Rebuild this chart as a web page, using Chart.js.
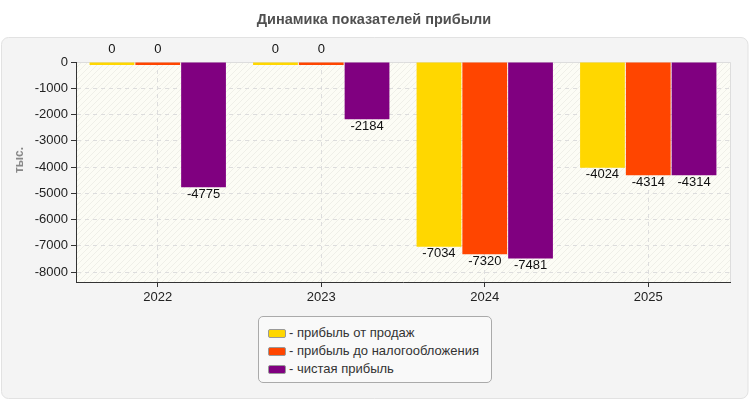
<!DOCTYPE html>
<html>
<head>
<meta charset="utf-8">
<script src="https://cdn.jsdelivr.net/npm/chart.js@4.4.0/dist/chart.umd.min.js"></script>
<style>
html,body{margin:0;padding:0;background:#fff;}
#wrap{position:relative;width:750px;height:400px;overflow:hidden;}
#c{position:absolute;left:0;top:0;}
#legend{position:absolute;left:258px;top:316px;width:234px;height:67px;box-sizing:border-box;border:1px solid #aaa;border-radius:5px;background:#f9f9f9;padding:7px 0 0 9px;font:13px "Liberation Sans",Arial,sans-serif;color:#333;}
.item{height:18px;line-height:18px;display:flex;align-items:center;white-space:nowrap;}
.sw{width:16px;height:7px;border:1px solid #999;border-radius:2px;margin-right:3px;box-sizing:content-box;}
</style>
</head>
<body>
<div id="wrap">
<canvas id="c" width="750" height="400"></canvas>
<div id="legend"></div>
</div>
<script>
const chartTitle = 'Динамика показателей прибыли';
const yAxisTitle = 'тыс.';
const categories = ['2022', '2023', '2024', '2025'];
const salesProfit = [0, 0, -7034, -4024];
const preTaxProfit = [0, 0, -7320, -4314];
const netProfit = [-4775, -2184, -7481, -4314];
const seriesLabels = ['- прибыль от продаж', '- прибыль до налогообложения', '- чистая прибыль'];
const seriesColors = ['#FFD700', '#FF4500', '#800080'];
const yTickValues = [0, -1000, -2000, -3000, -4000, -5000, -6000, -7000, -8000];

const FONT = '"Liberation Sans", Arial, sans-serif';

// hatch pattern for plot background
function makePattern(ctx) {
  const p = document.createElement('canvas');
  p.width = 6; p.height = 6;
  const pc = p.getContext('2d');
  pc.fillStyle = '#fcfcf5';
  pc.fillRect(0, 0, 6, 6);
  pc.strokeStyle = 'rgba(0,0,0,0.05)';
  pc.lineWidth = 1;
  pc.beginPath();
  pc.moveTo(-1, 7); pc.lineTo(7, -1);
  pc.moveTo(-1, 1); pc.lineTo(1, -1);
  pc.moveTo(5, 7); pc.lineTo(7, 5);
  pc.stroke();
  return ctx.createPattern(p, 'repeat');
}

const backgroundPlugin = {
  id: 'bgPanel',
  beforeDraw(chart) {
    const ctx = chart.ctx;
    const a = chart.chartArea;
    ctx.save();
    ctx.fillStyle = '#fff';
    ctx.fillRect(0, 0, chart.width, chart.height);
    // panel
    ctx.beginPath();
    ctx.roundRect(1.5, 37.5, 746.5, 361, 7);
    ctx.fillStyle = '#f4f4f4';
    ctx.fill();
    ctx.strokeStyle = '#e2e2e2';
    ctx.lineWidth = 1;
    ctx.stroke();
    // title
    ctx.fillStyle = '#505050';
    ctx.font = 'bold 14.5px ' + FONT;
    ctx.textAlign = 'center';
    ctx.textBaseline = 'middle';
    ctx.fillText(chartTitle, 374, 20);
    // plot bg
    ctx.fillStyle = makePattern(ctx);
    ctx.fillRect(a.left, a.top, a.right - a.left, a.bottom - a.top);
    ctx.strokeStyle = '#dddddd';
    ctx.beginPath();
    ctx.moveTo(a.left, a.top + 0.5); ctx.lineTo(a.right + 0.5, a.top + 0.5); ctx.lineTo(a.right + 0.5, a.bottom);
    ctx.stroke();
    // y axis title
    ctx.save();
    ctx.translate(20, 160);
    ctx.rotate(-Math.PI / 2);
    ctx.fillStyle = '#888';
    ctx.font = 'bold 12px ' + FONT;
    ctx.fillText(yAxisTitle, 0, 0);
    ctx.restore();
    ctx.restore();
  }
};

const labelPlugin = {
  id: 'valueLabels',
  afterDatasetsDraw(chart) {
    const ctx = chart.ctx;
    const yZero = chart.scales.y.getPixelForValue(0);
    ctx.save();
    ctx.font = '13px ' + FONT;
    ctx.fillStyle = '#111';
    ctx.textAlign = 'center';
    ctx.textBaseline = 'middle';
    chart.data.datasets.forEach((ds, i) => {
      chart.getDatasetMeta(i).data.forEach((bar, j) => {
        const v = ds.data[j];
        const y = v === 0 ? yZero - 13 : bar.y + 7;
        ctx.fillText(String(v), bar.x, y);
      });
    });
    ctx.restore();
  }
};

const seriesData = [salesProfit, preTaxProfit, netProfit];

new Chart(document.getElementById('c'), {
  type: 'bar',
  data: {
    labels: categories,
    datasets: seriesData.map((d, i) => ({
      label: seriesLabels[i],
      data: d,
      backgroundColor: seriesColors[i],
      borderWidth: 0,
      categoryPercentage: 0.84,
      barPercentage: 0.978,
      minBarLength: 3,
      clip: false
    }))
  },
  options: {
    responsive: false,
    animation: false,
    devicePixelRatio: 1,
    layout: { padding: { top: 62, left: 0, right: 20, bottom: 88 } },
    plugins: { legend: { display: false }, title: { display: false }, tooltip: { enabled: false } },
    scales: {
      x: {
        afterFit(s) { s.height = 30; },
        grid: { offset: false, color: '#dddddd', tickColor: '#333', tickLength: 5, tickWidth: 1 },
        border: { color: '#333', width: 1, dash: [4, 4] },
        ticks: { color: '#222', font: { family: FONT, size: 13 }, padding: 3 }
      },
      y: {
        min: -8380,
        max: 0,
        afterFit(s) { s.width = 76; },
        afterBuildTicks(s) { s.ticks = yTickValues.map(v => ({ value: v })); },
        grid: { color: '#dddddd', tickColor: '#333', tickLength: 5, tickWidth: 1 },
        border: { color: '#333', width: 1, dash: [4, 4] },
        ticks: { color: '#222', font: { family: FONT, size: 13 }, padding: 3, callback: v => String(v) }
      }
    }
  },
  plugins: [backgroundPlugin, labelPlugin]
});

// HTML legend
const leg = document.getElementById('legend');
seriesLabels.forEach((l, i) => {
  const it = document.createElement('div');
  it.className = 'item';
  const sw = document.createElement('span');
  sw.className = 'sw';
  sw.style.background = seriesColors[i];
  const tx = document.createElement('span');
  tx.textContent = l;
  it.appendChild(sw); it.appendChild(tx);
  leg.appendChild(it);
});
</script>
</body>
</html>
